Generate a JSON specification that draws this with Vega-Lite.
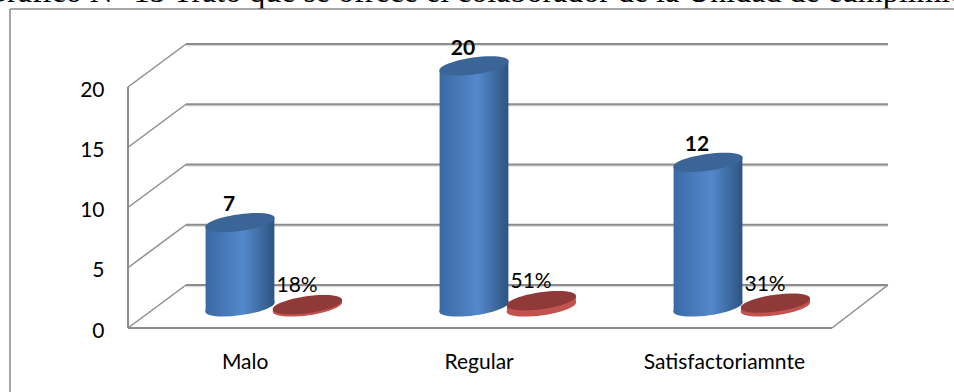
{
  "$schema": "https://vega.github.io/schema/vega-lite/v6.json",
  "width": 954,
  "height": 392,
  "padding": 0,
  "autosize": {"type": "none"},
  "background": "white",
  "config": {"view": {"stroke": null}},
  "datasets": {
    "responses": [
      {"category": "Malo", "count": 7, "pct": 0.18},
      {"category": "Regular", "count": 20, "pct": 0.51},
      {"category": "Satisfactoriamnte", "count": 12, "pct": 0.31}
    ],
    "gridlines": [
      {"value": 0}, {"value": 5}, {"value": 10}, {"value": 15}, {"value": 20}
    ],
    "single": [{}],
    "caption": [{"text": "Gráfico N° 15 Trato que se ofrece el colaborador de la Unidad de cumplimiento"}]
  },
  "encoding": {
    "x": {"type": "quantitative", "scale": {"domain": [-1.0256, 3.0513], "nice": false, "zero": false}, "axis": null},
    "y": {
      "type": "quantitative",
      "scale": {"domain": [-5.311, 27.22], "nice": false, "zero": false},
      "axis": {
        "orient": "left", "offset": -104, "values": [0, 5, 10, 15, 20],
        "domain": false, "ticks": false, "grid": false, "title": null,
        "labelFont": "Lato", "labelFontSize": 21, "labelColor": "#000000",
        "labelPadding": 0, "labelOffset": 3, "labelBound": false, "labelFlush": false
      }
    }
  },
  "layer": [
    {
      "description": "Caption line running off the top edge above the chart frame",
      "data": {"name": "caption"},
      "mark": {"type": "text", "font": "Liberation Serif", "fontSize": 32, "color": "#000000", "align": "left", "baseline": "alphabetic"},
      "encoding": {
        "x": {"datum": -1.094},
        "y": {"datum": 27.05},
        "text": {"field": "text", "type": "nominal"}
      }
    },
    {
      "description": "Outer chart frame",
      "data": {"name": "single"},
      "mark": {"type": "rule", "color": "#8a8a8a", "strokeWidth": 1.5},
      "encoding": {"x": {"datum": -0.9829}, "y": {"datum": -5.311}, "y2": {"datum": 26.47}}
    },
    {
      "data": {"name": "single"},
      "mark": {"type": "rule", "color": "#8a8a8a", "strokeWidth": 1.5},
      "encoding": {"x": {"datum": -0.9829}, "x2": {"datum": 3.0513}, "y": {"datum": 26.47}}
    },
    {
      "description": "Soft shadow under the back-wall gridlines",
      "data": {"name": "gridlines"},
      "transform": [{"calculate": "datum.value + 3.57", "as": "back"}],
      "mark": {"type": "rule", "color": "#dcdcdc", "strokeWidth": 1.5, "yOffset": 1.5},
      "encoding": {
        "x": {"datum": -0.2308},
        "x2": {"datum": 2.769},
        "y": {"field": "back", "type": "quantitative"}
      }
    },
    {
      "description": "Back-wall gridlines",
      "data": {"name": "gridlines"},
      "transform": [{"calculate": "datum.value + 3.57", "as": "back"}],
      "mark": {"type": "rule", "color": "#8c8c8c", "strokeWidth": 2},
      "encoding": {
        "x": {"datum": -0.2308},
        "x2": {"datum": 2.769},
        "y": {"field": "back", "type": "quantitative"}
      }
    },
    {
      "description": "Side-wall diagonals joining the front edge to the back wall",
      "data": {"name": "gridlines"},
      "transform": [{"calculate": "datum.value + 3.57", "as": "back"}],
      "mark": {"type": "rule", "color": "#8c8c8c", "strokeWidth": 1.5},
      "encoding": {
        "x": {"datum": -0.4786},
        "x2": {"datum": -0.2308},
        "y": {"field": "value", "type": "quantitative"},
        "y2": {"field": "back"}
      }
    },
    {
      "description": "Front vertical edge of the side wall",
      "data": {"name": "single"},
      "mark": {"type": "rule", "color": "#8c8c8c", "strokeWidth": 2},
      "encoding": {"x": {"datum": -0.4786}, "y": {"datum": 0}, "y2": {"datum": 20}}
    },
    {
      "description": "Front edge of the floor",
      "data": {"name": "single"},
      "mark": {"type": "rule", "color": "#8c8c8c", "strokeWidth": 2},
      "encoding": {"x": {"datum": -0.4786}, "x2": {"datum": 2.53}, "y": {"datum": 0}}
    },
    {
      "description": "Right edge of the floor",
      "data": {"name": "single"},
      "mark": {"type": "rule", "color": "#8c8c8c", "strokeWidth": 1.5},
      "encoding": {"x": {"datum": 2.53}, "x2": {"datum": 2.769}, "y": {"datum": 0}, "y2": {"datum": 3.57}}
    },
    {
      "description": "Count cylinders and percentage discs, built from the same rows",
      "data": {"name": "responses"},
      "transform": [
        {"window": [{"op": "row_number", "as": "rank"}]},
        {"calculate": "datum.rank - 1", "as": "idx"},
        {"calculate": "1.75", "as": "base"},
        {"calculate": "datum.base + datum.count", "as": "top"},
        {"calculate": "datum.base + datum.pct", "as": "discTop"},
        {"calculate": "datum.idx + 0.288", "as": "discX"},
        {"calculate": "datum.idx - 0.047", "as": "countX"},
        {"calculate": "datum.count + 3.18", "as": "countY"},
        {"calculate": "datum.idx + 0.244", "as": "pctX"},
        {"calculate": "3.3 + datum.pct", "as": "pctY"},
        {"calculate": "datum.idx + (datum.idx == 2 ? 0.07 : 0.022)", "as": "labelX"},
        {"calculate": "-2.9", "as": "labelY"}
      ],
      "layer": [
        {
          "mark": {
            "type": "point", "filled": true, "opacity": 1, "size": 4900,
            "shape": "M-0.99,0.139A1,0.235,-8,1,1,0.99,-0.139A1,0.235,-8,1,1,-0.99,0.139Z",
            "fill": {"gradient": "linear", "x1": 0, "x2": 1, "y1": 0, "y2": 0, "stops": [
              {"offset": 0, "color": "#3a6aa5"}, {"offset": 0.55, "color": "#5488cc"}, {"offset": 1, "color": "#2d5480"}
            ]}
          },
          "encoding": {"x": {"field": "idx", "type": "quantitative"}, "y": {"field": "base", "type": "quantitative"}}
        },
        {
          "description": "Cylinder body, its ends slanted to meet the tilted ellipses",
          "transform": [
            {"calculate": "[-1, 1]", "as": "side"},
            {"flatten": ["side"]},
            {"calculate": "datum.idx + datum.side * 0.147", "as": "edgeX"},
            {"calculate": "datum.base + datum.side * 0.41", "as": "edgeBase"},
            {"calculate": "datum.top + datum.side * 0.41", "as": "edgeTop"}
          ],
          "mark": {
            "type": "area", "orient": "vertical",
            "fill": {"gradient": "linear", "x1": 0, "x2": 1, "y1": 0, "y2": 0, "stops": [
              {"offset": 0, "color": "#3a6aa5"}, {"offset": 0.55, "color": "#5488cc"}, {"offset": 1, "color": "#2d5480"}
            ]}
          },
          "encoding": {
            "x": {"field": "edgeX", "type": "quantitative"},
            "y": {"field": "edgeBase", "type": "quantitative"},
            "y2": {"field": "edgeTop"},
            "detail": {"field": "category", "type": "nominal"}
          }
        },
        {
          "mark": {
            "type": "point", "filled": true, "opacity": 1, "size": 4900,
            "shape": "M-0.99,0.139A1,0.235,-8,1,1,0.99,-0.139A1,0.235,-8,1,1,-0.99,0.139Z",
            "fill": "#3a6596"
          },
          "encoding": {"x": {"field": "idx", "type": "quantitative"}, "y": {"field": "top", "type": "quantitative"}}
        },
        {
          "mark": {
            "type": "point", "filled": true, "opacity": 1, "size": 4900,
            "shape": "M-0.99,0.139A1,0.235,-8,1,1,0.99,-0.139A1,0.235,-8,1,1,-0.99,0.139Z",
            "fill": "#c4524e"
          },
          "encoding": {"x": {"field": "discX", "type": "quantitative"}, "y": {"field": "base", "type": "quantitative"}}
        },
        {
          "description": "Disc rim, slanted in the same way",
          "transform": [
            {"calculate": "[-1, 1]", "as": "side"},
            {"flatten": ["side"]},
            {"calculate": "datum.discX + datum.side * 0.147", "as": "edgeX"},
            {"calculate": "datum.base + datum.side * 0.41", "as": "edgeBase"},
            {"calculate": "datum.discTop + datum.side * 0.41", "as": "edgeTop"}
          ],
          "mark": {"type": "area", "orient": "vertical", "fill": "#c4524e"},
          "encoding": {
            "x": {"field": "edgeX", "type": "quantitative"},
            "y": {"field": "edgeBase", "type": "quantitative"},
            "y2": {"field": "edgeTop"},
            "detail": {"field": "category", "type": "nominal"}
          }
        },
        {
          "mark": {
            "type": "point", "filled": true, "opacity": 1, "size": 4900,
            "shape": "M-0.99,0.139A1,0.235,-8,1,1,0.99,-0.139A1,0.235,-8,1,1,-0.99,0.139Z",
            "fill": "#8f3a38"
          },
          "encoding": {"x": {"field": "discX", "type": "quantitative"}, "y": {"field": "discTop", "type": "quantitative"}}
        },
        {
          "mark": {"type": "text", "font": "Lato", "fontSize": 21, "fontWeight": "bold", "color": "#000000", "align": "center", "baseline": "middle"},
          "encoding": {
            "x": {"field": "countX", "type": "quantitative"},
            "y": {"field": "countY", "type": "quantitative"},
            "text": {"field": "count", "type": "quantitative"}
          }
        },
        {
          "mark": {"type": "text", "font": "Lato", "fontSize": 21, "color": "#000000", "align": "center", "baseline": "middle"},
          "encoding": {
            "x": {"field": "pctX", "type": "quantitative"},
            "y": {"field": "pctY", "type": "quantitative"},
            "text": {"field": "pct", "type": "quantitative", "format": ".0%"}
          }
        },
        {
          "mark": {"type": "text", "font": "Lato", "fontSize": 21, "color": "#000000", "align": "center", "baseline": "middle"},
          "encoding": {
            "x": {"field": "labelX", "type": "quantitative"},
            "y": {"field": "labelY", "type": "quantitative"},
            "text": {"field": "category", "type": "nominal"}
          }
        }
      ]
    }
  ]
}
